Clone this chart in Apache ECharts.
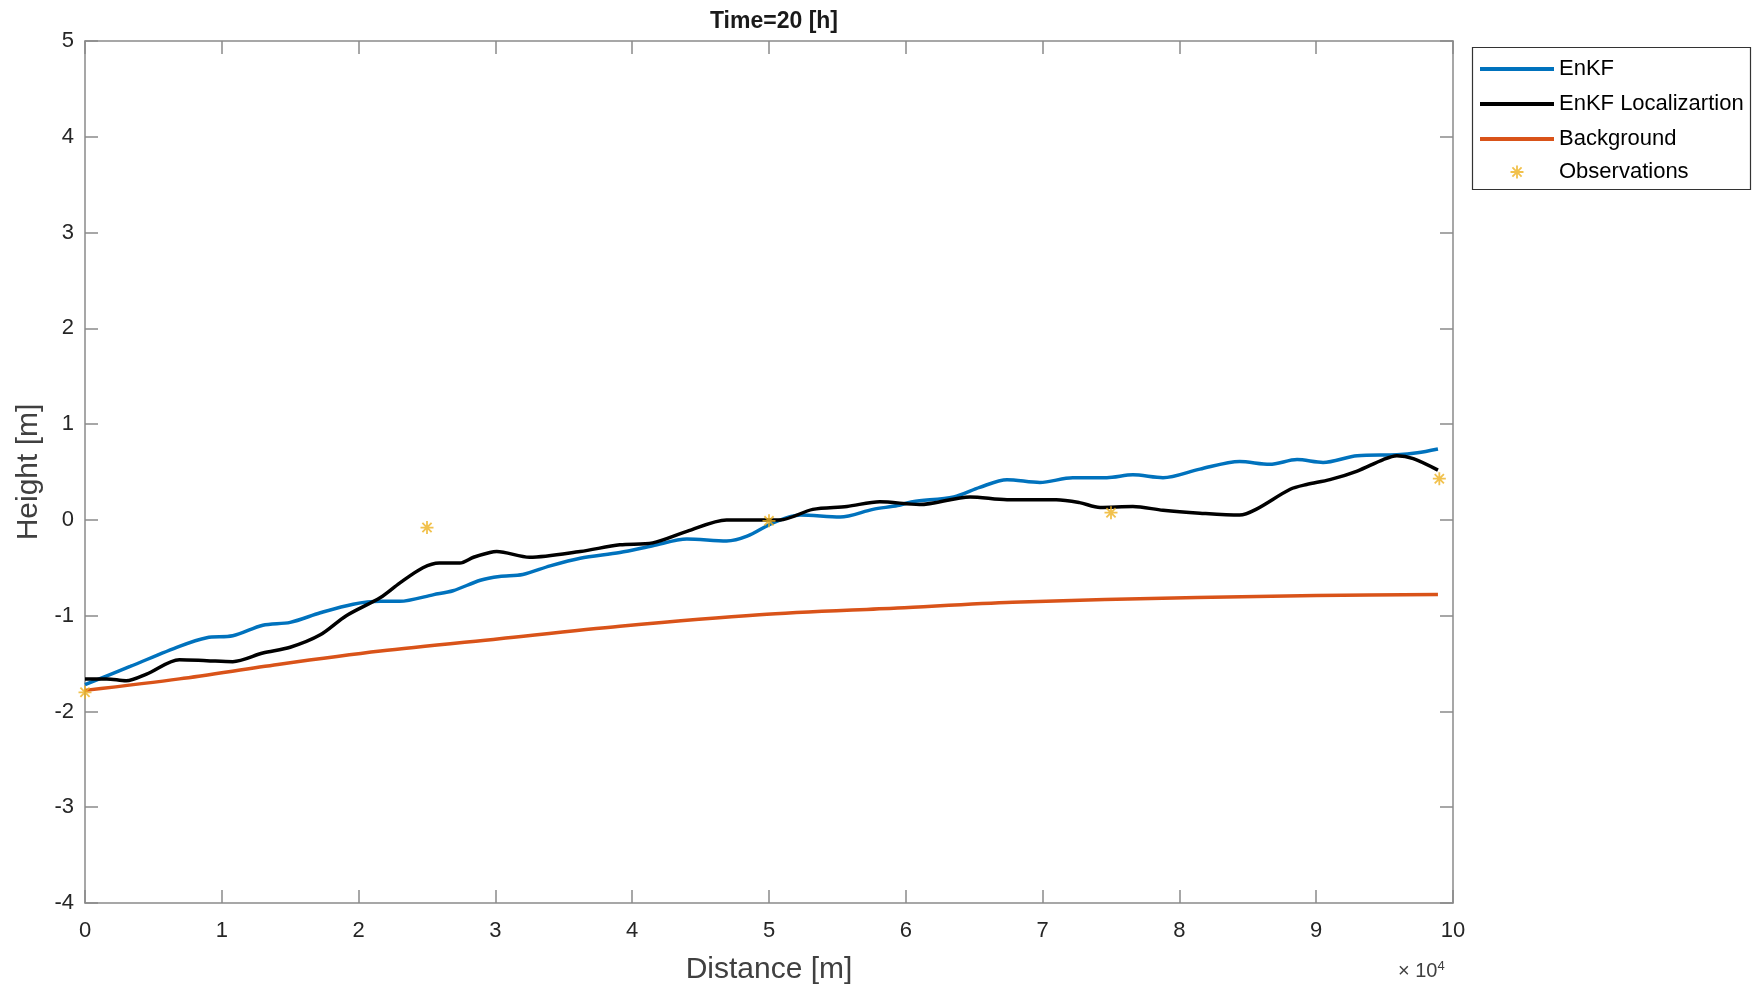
<!DOCTYPE html>
<html>
<head>
<meta charset="utf-8">
<script src="https://cdn.jsdelivr.net/npm/echarts@6/dist/echarts.min.js"></script>
<style>
html,body{margin:0;padding:0;background:#fff;}
#chart{width:1752px;height:987px;}
</style>
</head>
<body>
<div id="chart"></div>
<script>
// Distance [m], Height [m]
const enkf = [[0,-1.72],[3300,-1.53],[6900,-1.32],[8900,-1.23],[10800,-1.21],[13000,-1.10],[15000,-1.07],[17200,-0.97],[19600,-0.88],[21600,-0.85],[23000,-0.85],[25500,-0.78],[26900,-0.74],[28900,-0.63],[30300,-0.59],[32000,-0.57],[34000,-0.48],[36200,-0.40],[39100,-0.34],[41500,-0.27],[44000,-0.20],[46900,-0.22],[48400,-0.17],[50300,-0.03],[52300,0.05],[55200,0.03],[57600,0.11],[59400,0.15],[60500,0.19],[63500,0.24],[65400,0.34],[67400,0.42],[69800,0.39],[72200,0.44],[74700,0.44],[76600,0.47],[78800,0.44],[81500,0.53],[84400,0.61],[86600,0.58],[88600,0.63],[90500,0.60],[93000,0.67],[95900,0.68],[97400,0.70],[98900,0.74]];
const enkfLoc = [[0,-1.66],[1600,-1.66],[3000,-1.68],[4500,-1.61],[6900,-1.46],[8900,-1.47],[10800,-1.48],[13000,-1.39],[15000,-1.33],[17200,-1.20],[19100,-1.00],[21600,-0.81],[23000,-0.66],[24700,-0.50],[25900,-0.45],[27400,-0.45],[28400,-0.39],[29600,-0.34],[30100,-0.33],[32500,-0.39],[36200,-0.33],[39100,-0.26],[41500,-0.24],[44000,-0.12],[46900,0.00],[49300,0.00],[50800,0.00],[53200,0.11],[55700,0.14],[58100,0.19],[61000,0.16],[64700,0.24],[67400,0.21],[71000,0.21],[72700,0.18],[74200,0.13],[76600,0.14],[78800,0.10],[81500,0.07],[84400,0.05],[85600,0.11],[88100,0.32],[89300,0.37],[91000,0.42],[93000,0.51],[94900,0.63],[95900,0.67],[97100,0.64],[98900,0.52]];
const background = [[0,-1.78],[6900,-1.66],[14100,-1.51],[21600,-1.37],[30300,-1.24],[39100,-1.11],[49300,-0.99],[59400,-0.92],[67800,-0.86],[81300,-0.81],[90000,-0.79],[98900,-0.78]];
const observations = [[0,-1.80],[25000,-0.08],[50000,-0.01],[75000,0.075],[99000,0.43]];
const xTicks = [0,1,2,3,4,5,6,7,8,9,10];
const yTicks = [-4,-3,-2,-1,0,1,2,3,4,5];

const star = 'path://M-5,-0.7L5,-0.7L5,0.7L-5,0.7Z M-0.7,-5L0.7,-5L0.7,5L-0.7,5Z M-3.04,-4.03L4.03,3.04L3.04,4.03L-4.03,-3.04Z M4.03,-3.04L-3.04,4.03L-4.03,3.04L3.04,-4.03Z';
// same star, centred in a 74 x 13 legend slot (tiny invisible anchors at the slot ends)
const starLegend = 'path://M-37,0L-37,0.01L-36.99,0Z M37,0L37,0.01L36.99,0Z M-6.5,-0.91L6.5,-0.91L6.5,0.91L-6.5,0.91Z M-0.91,-6.5L0.91,-6.5L0.91,6.5L-0.91,6.5Z M-3.95,-5.24L5.24,3.95L3.95,5.24L-5.24,-3.95Z M5.24,-3.95L-3.95,5.24L-5.24,3.95L3.95,-5.24Z';

const axisCol = '#8a8a8a';
const labelCol = '#262626';
const chart = echarts.init(document.getElementById('chart'), null, {renderer:'canvas'});
const baseX = {
  type:'value', min:0, max:100000, interval:10000,
  axisLine:{show:true, onZero:false, lineStyle:{color:axisCol, width:1.5}},
  axisTick:{show:true, inside:true, length:13, lineStyle:{color:axisCol, width:1.5}},
  splitLine:{show:false}
};
const baseY = {
  type:'value', min:-4, max:5, interval:1,
  axisLine:{show:true, onZero:false, lineStyle:{color:axisCol, width:1.5}},
  axisTick:{show:true, inside:true, length:13, lineStyle:{color:axisCol, width:1.5}},
  splitLine:{show:false}
};
const legendText = {fontFamily:'Liberation Sans', fontSize:22, color:'#000'};
chart.setOption({
  animation:false,
  backgroundColor:'#fff',
  title:{text:'Time=20 [h]', left:769, top:5, textAlign:'center',
    textStyle:{fontFamily:'Liberation Sans', fontWeight:'bold', fontSize:23, color:'#1a1a1a'}},
  grid:{left:85, right:299, top:41, bottom:84, containLabel:false, outerBoundsMode:'none'},
  xAxis:[
    Object.assign({}, baseX, {position:'bottom',
      name:'Distance [m]', nameLocation:'middle', nameGap:52,
      nameTextStyle:{fontFamily:'Liberation Sans', fontSize:30, color:'#404040'},
      axisLabel:{show:true, margin:17, fontFamily:'Liberation Sans', fontSize:22, color:labelCol,
        formatter:v=>String(xTicks[Math.round(v/10000)])}}),
    Object.assign({}, baseX, {position:'top', axisLabel:{show:false}})
  ],
  yAxis:[
    Object.assign({}, baseY, {position:'left',
      name:'Height [m]', nameLocation:'middle', nameGap:41, nameRotate:90,
      nameTextStyle:{fontFamily:'Liberation Sans', fontSize:30, color:'#404040'},
      axisLabel:{show:true, margin:11, fontFamily:'Liberation Sans', fontSize:22, color:labelCol,
        formatter:v=>String(yTicks[Math.round(v+4)])}}),
    Object.assign({}, baseY, {position:'right', axisLabel:{show:false}})
  ],
  legend:[
    {
      orient:'vertical', left:1480, top:58, padding:0, itemWidth:74, itemHeight:4, itemGap:13,
      textStyle:legendText, icon:'rect',
      data:['EnKF','EnKF Localizartion','Background']
    },
    {
      orient:'vertical', left:1480, top:161, padding:0, itemWidth:74, itemHeight:13,
      textStyle:legendText,
      data:[{name:'Observations', icon:starLegend}]
    }
  ],
  graphic:[
    {type:'rect', shape:{x:1472.5, y:47.5, width:278, height:142},
      style:{fill:'none', stroke:'#333', lineWidth:1.2}, z:-1},
    {type:'text', left:1398, top:960,
      style:{text:'{a|\u00d7 10}{b|4}', rich:{
        a:{fontFamily:'Liberation Sans', fontSize:20, fill:'#404040'},
        b:{fontFamily:'Liberation Sans', fontSize:13, fill:'#404040', verticalAlign:'top', padding:[0,0,10,0]}
      }}}
  ],
  series:[
    {name:'EnKF', type:'line', data:enkf, smooth:0.3, symbol:'none',
      lineStyle:{color:'#0072BD', width:3.5}, itemStyle:{color:'#0072BD'}, z:3},
    {name:'EnKF Localizartion', type:'line', data:enkfLoc, smooth:0.3, symbol:'none',
      lineStyle:{color:'#000000', width:3.5}, itemStyle:{color:'#000000'}, z:4},
    {name:'Background', type:'line', data:background, smooth:0.3, symbol:'none',
      lineStyle:{color:'#D95319', width:3.5}, itemStyle:{color:'#D95319'}, z:2},
    {name:'Observations', type:'scatter', data:observations, symbol:star, symbolSize:13,
      itemStyle:{color:'#EDB120'}, z:5}
  ]
});
</script>
</body>
</html>
